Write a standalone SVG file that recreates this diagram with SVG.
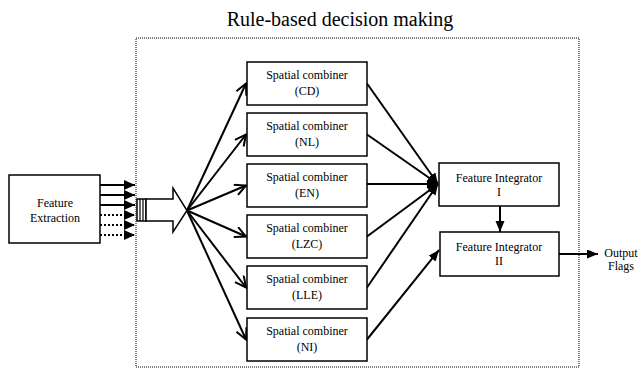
<svg xmlns="http://www.w3.org/2000/svg" width="641" height="370" viewBox="0 0 641 370">
<style>
.box{fill:#fff;stroke:#000;stroke-width:1.5}
.t{font-family:"Liberation Serif","Times New Roman",serif;font-size:12px;text-anchor:middle;fill:#000}
.ln{stroke:#000;stroke-width:2;fill:none}
.fan{stroke:#000;stroke-width:2;fill:none;marker-end:url(#open)}
.fi{stroke:#000;stroke-width:2;fill:none;marker-end:url(#solid)}
</style>
<defs>
<marker id="solid" markerUnits="userSpaceOnUse" markerWidth="12" markerHeight="12" refX="11" refY="4.5" orient="auto">
<path d="M0,0 L11,4.5 L0,9 z" fill="#000"/>
</marker>
<marker id="open" markerUnits="userSpaceOnUse" markerWidth="14" markerHeight="14" refX="12" refY="6" orient="auto">
<path d="M1,0.5 L12,6 L1,11.5" fill="none" stroke="#000" stroke-width="2"/>
</marker>
<marker id="tri" markerUnits="userSpaceOnUse" markerWidth="12" markerHeight="12" refX="11" refY="5" orient="auto">
<path d="M0,0 L11,5 L0,10 z" fill="#000"/>
</marker>
</defs>
<text x="340" y="26" font-family="Liberation Serif,serif" font-size="20" text-anchor="middle">Rule-based decision making</text>
<rect x="136" y="38" width="443" height="329" fill="none" stroke="#000" stroke-width="1" stroke-dasharray="1,1"/>

<g id="connectors">
<line class="ln" x1="100" y1="185" x2="135" y2="185" marker-end="url(#tri)"/>
<line class="ln" x1="100" y1="195" x2="135" y2="195" marker-end="url(#tri)"/>
<line class="ln" x1="100" y1="205" x2="135" y2="205" marker-end="url(#tri)"/>
<line class="ln" x1="100" y1="215" x2="135" y2="215" stroke-dasharray="2,2" marker-end="url(#tri)"/>
<line class="ln" x1="100" y1="225" x2="135" y2="225" stroke-dasharray="2,2" marker-end="url(#tri)"/>
<line class="ln" x1="100" y1="235" x2="135" y2="235" stroke-dasharray="2,2" marker-end="url(#tri)"/>
<g id="bigarrow">
<rect x="137" y="199" width="9" height="22" fill="#fff" stroke="#000" stroke-width="1.5"/>
<line x1="140" y1="199" x2="140" y2="221" stroke="#000" stroke-width="1.2"/>
<line x1="143" y1="199" x2="143" y2="221" stroke="#000" stroke-width="1.2"/>
<path d="M146,199 L173,199 L173,188 L187,210.5 L173,232 L173,221 L146,221 z" fill="#fff" stroke="#000" stroke-width="1.5"/>
</g>
<line class="fan" x1="187" y1="210.5" x2="246" y2="83.5"/>
<line class="fan" x1="187" y1="210.5" x2="246" y2="134.5"/>
<line class="fan" x1="187" y1="210.5" x2="246" y2="185.5"/>
<line class="fan" x1="187" y1="210.5" x2="246" y2="236.5"/>
<line class="fan" x1="187" y1="210.5" x2="246" y2="287.5"/>
<line class="fan" x1="187" y1="210.5" x2="246" y2="339.5"/>
<line class="fi" x1="367" y1="83.5" x2="438" y2="184"/>
<line class="fi" x1="367" y1="134.5" x2="438" y2="184"/>
<line class="fi" x1="367" y1="184" x2="438" y2="184"/>
<line class="fi" x1="367" y1="236.5" x2="438" y2="184"/>
<line class="fi" x1="367" y1="287.5" x2="438" y2="184"/>
<line class="fi" x1="367" y1="339.5" x2="439" y2="250"/>
<line class="fi" x1="500" y1="206" x2="500" y2="232"/>
<line class="fi" x1="559" y1="254" x2="598" y2="254"/>
</g>

<g id="feature-extraction">
<rect class="box" x="9" y="175" width="91" height="68"/>
<text class="t" x="55" y="207">Feature</text>
<text class="t" x="55" y="222">Extraction</text>
</g>
<g id="sc-cd">
<rect class="box" x="247" y="62" width="120" height="43"/>
<text class="t" x="307" y="79">Spatial combiner</text>
<text class="t" x="307" y="95">(CD)</text>
</g>
<g id="sc-nl">
<rect class="box" x="247" y="113" width="120" height="43"/>
<text class="t" x="307" y="130">Spatial combiner</text>
<text class="t" x="307" y="146">(NL)</text>
</g>
<g id="sc-en">
<rect class="box" x="247" y="164" width="120" height="43"/>
<text class="t" x="307" y="181">Spatial combiner</text>
<text class="t" x="307" y="197">(EN)</text>
</g>
<g id="sc-lzc">
<rect class="box" x="247" y="215" width="120" height="43"/>
<text class="t" x="307" y="232">Spatial combiner</text>
<text class="t" x="307" y="248">(LZC)</text>
</g>
<g id="sc-lle">
<rect class="box" x="247" y="266" width="120" height="43"/>
<text class="t" x="307" y="283">Spatial combiner</text>
<text class="t" x="307" y="299">(LLE)</text>
</g>
<g id="sc-ni">
<rect class="box" x="247" y="318" width="120" height="43"/>
<text class="t" x="307" y="335">Spatial combiner</text>
<text class="t" x="307" y="351">(NI)</text>
</g>
<g id="fi-1">
<rect class="box" x="439" y="163" width="120" height="43"/>
<text class="t" x="499" y="182">Feature Integrator</text>
<text class="t" x="499" y="196">I</text>
</g>
<g id="fi-2">
<rect class="box" x="440" y="232" width="119" height="44"/>
<text class="t" x="499" y="251">Feature Integrator</text>
<text class="t" x="499" y="265">II</text>
</g>
<g id="output">
<text class="t" x="621" y="257">Output</text>
<text class="t" x="621" y="270">Flags</text>
</g>
</svg>
